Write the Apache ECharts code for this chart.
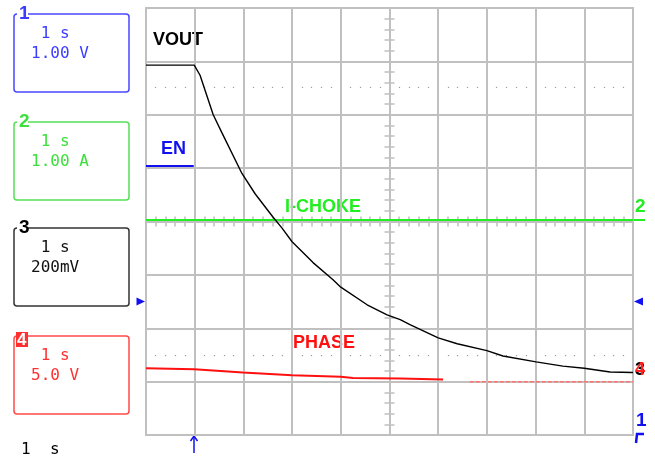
<!DOCTYPE html>
<html>
<head>
<meta charset="utf-8">
<script src="https://cdn.jsdelivr.net/npm/echarts@6/dist/echarts.min.js"></script>
<style>
  html, body { margin: 0; padding: 0; background: #fff; }
  #scope { width: 655px; height: 457px; }
</style>
</head>
<body>
<div id="scope"></div>
<script>
// time in divisions (1 s/div), centre of screen = 0
const voutT = [-5, -4.01, -3.89, -3.62, -3.44, -3.03, -2.76, -2.39, -2.21, -2.0, -1.57, -1.16, -1.0, -0.46, -0.05, 0.22, 0.42, 1.0, 1.39, 2.0, 2.33, 3.01, 3.56, 4.0, 4.53, 5];
const voutV = [2.93, 2.93, 2.74, 2.0, 1.66, 0.9, 0.52, 0.08, -0.12, -0.38, -0.77, -1.09, -1.23, -1.56, -1.75, -1.84, -1.93, -2.18, -2.29, -2.42, -2.52, -2.63, -2.71, -2.75, -2.82, -2.83];
const enT = [-5, -4.02];
const enV = [1.04, 1.04];
const chokeT = [-5, 5];
const chokeV = [0.03, 0.03];
const phaseT = [-5, -4.01, -3.01, -2.0, -1.0, -0.75, 0.22, 1.1];
const phaseV = [-2.75, -2.77, -2.83, -2.88, -2.91, -2.93, -2.94, -2.96];
const phaseTailT = [1.65, 5];
const phaseTailV = [-3.0, -3.0];

const boxes = [
  { tag: '1', top: 14, lines: [' 1 s', '1.00 V'], border: '#4848ff', text: '#3c3cff' },
  { tag: '2', top: 122, lines: [' 1 s', '1.00 A'], border: '#55e055', text: '#3ce03c' },
  { tag: '3', top: 228, lines: [' 1 s', '200mV'], border: '#333333', text: '#111111' },
  { tag: '4', top: 336, lines: [' 1 s', '5.0 V'], border: '#ff4a4a', text: '#ff3030' }
];

const pairs = (t, v) => t.map((x, i) => [x, v[i]]);
const gridGray = '#c0c0c0';

const chart = echarts.init(document.getElementById('scope'));

// panel boxes on the left
const graphics = [];
boxes.forEach(b => {
  graphics.push({
    type: 'rect', shape: { x: 14, y: b.top, width: 115, height: 78, r: 3 },
    style: { fill: 'none', stroke: b.border, lineWidth: 1.5 }
  });
  if (b.tag === '4') {
    graphics.push({ type: 'rect', shape: { x: 16, y: b.top - 4, width: 12, height: 15 }, style: { fill: '#ff3030' } });
    graphics.push({ type: 'text', x: 17, y: b.top + 4,
      style: { text: '4', fill: '#fff', font: 'bold 17px "Liberation Sans"', verticalAlign: 'middle' } });
  } else {
    graphics.push({ type: 'rect', shape: { x: 17, y: b.top - 8, width: 11, height: 16 }, style: { fill: '#fff' } });
    graphics.push({ type: 'text', x: 19, y: b.top,
      style: { text: b.tag, fill: b.border === '#333333' ? '#000' : b.text, font: 'bold 19px "Liberation Sans"', verticalAlign: 'middle' } });
  }
  b.lines.forEach((ln, i) => {
    graphics.push({ type: 'text', x: 31, y: b.top + 20 + i * 19.5,
      style: { text: ln, fill: b.text, font: '16px "DejaVu Sans Mono"', verticalAlign: 'middle' } });
  });
});
graphics.push({ type: 'text', x: 21, y: 450,
  style: { text: '1  s', fill: '#000', font: '16px "DejaVu Sans Mono"', verticalAlign: 'middle' } });

// trace names
const names = [
  ['VOUT', 153, 40, '#000000'],
  ['EN', 161, 149, '#1010f0'],
  ['I-CHOKE', 285, 207, '#22ee22'],
  ['PHASE', 293, 343, '#ff1010']
];
names.forEach(n => graphics.push({ type: 'text', x: n[1], y: n[2],
  style: { text: n[0], fill: n[3], font: 'bold 18px "Liberation Sans"', verticalAlign: 'middle' } }));

// channel markers
graphics.push(
  { type: 'polygon', shape: { points: [[136.5, 297.5], [145, 301.5], [136.5, 305.5]] }, style: { fill: '#1010f0' } },
  { type: 'polygon', shape: { points: [[643, 297.5], [634, 301.5], [643, 305.5]] }, style: { fill: '#1010f0' } },
  { type: 'text', x: 635, y: 207, style: { text: '2', fill: '#22ee22', font: 'bold 19px "Liberation Sans"', verticalAlign: 'middle' } },
  { type: 'rect', shape: { x: 634, y: 219, width: 11, height: 2 }, style: { fill: '#22ee22' } },
  { type: 'text', x: 635, y: 370, style: { text: '3', fill: '#000', font: 'bold 18px "Liberation Sans"', verticalAlign: 'middle' } },
  { type: 'text', x: 635, y: 370, style: { text: '4', fill: '#ff2020', font: 'bold 18px "Liberation Sans"', verticalAlign: 'middle' } },
  { type: 'text', x: 636, y: 421, style: { text: '1', fill: '#1010f0', font: 'bold 19px "Liberation Sans"', verticalAlign: 'middle' } },
  { type: 'polyline', shape: { points: [[636, 443], [637, 434], [644, 434]] }, style: { stroke: '#1010f0', lineWidth: 2.5, fill: 'none' } },
  { type: 'line', shape: { x1: 194, y1: 453, x2: 194, y2: 437 }, style: { stroke: '#1010f0', lineWidth: 1.5 } },
  { type: 'polyline', shape: { points: [[190.5, 441], [194, 436], [197.5, 441]] }, style: { stroke: '#1010f0', lineWidth: 1.5, fill: 'none' } }
);

const baseX = { type: 'value', min: -5, max: 5, interval: 1, axisLabel: { show: false } };
const baseY = { type: 'value', min: -4, max: 4, interval: 1, axisLabel: { show: false } };
const centreTicks = (inside) => ({
  axisLine: { show: false, onZero: true, onZeroAxisIndex: 0 },
  axisTick: { show: true, inside: inside, length: 5, lineStyle: { color: gridGray, width: 1.5 } },
  minorTick: { show: true, splitNumber: 5, length: 5, lineStyle: { color: gridGray, width: 1.5 } },
  splitLine: { show: false }
});
const dotRow = (pos) => Object.assign({}, baseX, {
  position: pos, offset: -80.06,
  axisLine: { show: false, onZero: false },
  axisTick: { show: false },
  minorTick: { show: true, splitNumber: 5, length: 1.2, lineStyle: { color: '#9a9a9a', width: 1.2 } },
  splitLine: { show: false }
});

chart.setOption({
  animation: false,
  backgroundColor: '#fff',
  grid: { left: 146, top: 8, width: 487, height: 427, show: true, borderColor: gridGray, borderWidth: 2 },
  xAxis: [
    Object.assign({}, baseX, { position: 'bottom', axisLine: { show: false, onZero: false }, axisTick: { show: false },
      splitLine: { show: true, lineStyle: { color: gridGray, width: 2 } } }),
    Object.assign({}, baseX, { position: 'bottom' }, centreTicks(false)),
    Object.assign({}, baseX, { position: 'bottom' }, centreTicks(true)),
    dotRow('top'),
    dotRow('bottom')
  ],
  yAxis: [
    Object.assign({}, baseY, { position: 'left', axisLine: { show: false, onZero: false }, axisTick: { show: false },
      splitLine: { show: true, lineStyle: { color: gridGray, width: 2 } } }),
    Object.assign({}, baseY, { position: 'left' }, centreTicks(false)),
    Object.assign({}, baseY, { position: 'left' }, centreTicks(true))
  ],
  series: [
    { name: 'I-CHOKE', type: 'line', data: pairs(chokeT, chokeV), showSymbol: false, lineStyle: { color: '#22ee22', width: 2 } },
    { name: 'EN', type: 'line', data: pairs(enT, enV), showSymbol: false, lineStyle: { color: '#1010f0', width: 2 } },
    { name: 'PHASE', type: 'line', data: pairs(phaseT, phaseV), showSymbol: false, lineStyle: { color: '#ff1010', width: 2 } },
    { name: 'PHASE tail', type: 'line', data: pairs(phaseTailT, phaseTailV), showSymbol: false,
      lineStyle: { color: '#ff7070', width: 1.5, type: [4, 2] } },
    { name: 'VOUT', type: 'line', data: pairs(voutT, voutV), showSymbol: false, lineStyle: { color: '#000', width: 1.4 } }
  ],
  graphic: graphics
});
</script>
</body>
</html>
